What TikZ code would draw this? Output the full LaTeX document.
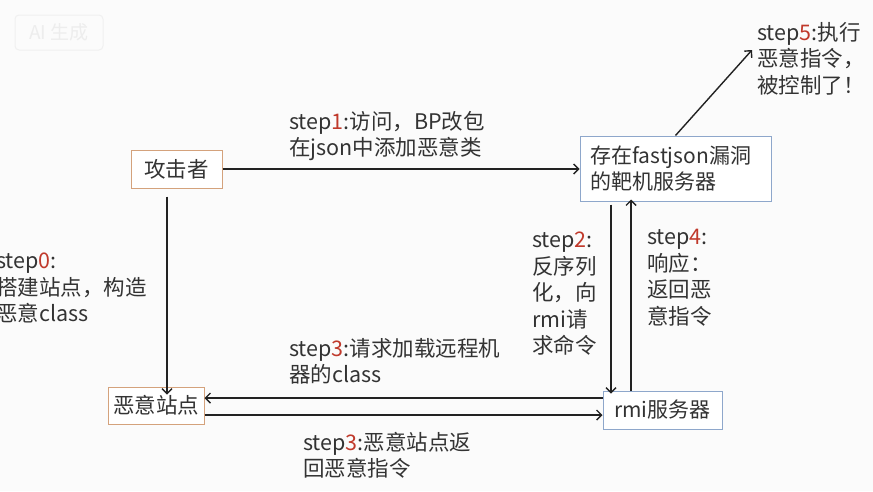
\documentclass[tikz,border=0pt]{standalone}
\usepackage{fontspec}
\setmainfont{Noto Sans CJK SC}
\usetikzlibrary{arrows.meta}
\definecolor{txt}{HTML}{333333}
\definecolor{stepred}{HTML}{C0392B}
\definecolor{orangeb}{HTML}{D4A27C}
\definecolor{blueb}{HTML}{8EA7CB}
\definecolor{bg}{HTML}{FBFBFB}
\definecolor{linec}{HTML}{222222}
\newcommand{\sn}[1]{\textcolor{stepred}{#1}}
\begin{document}
\begin{tikzpicture}[x=1pt,y=-1pt,
  txtfont/.style={font=\fontsize{21.5}{26.5}\selectfont, text=txt},
  boxo/.style={draw=orangeb, line width=1pt, fill=white, inner sep=0pt, txtfont},
  boxb/.style={draw=blueb, line width=1pt, fill=white, inner sep=0pt, txtfont},
  lbl/.style={anchor=north west, align=left, inner sep=0pt, txtfont},
  arr/.style={draw=linec, line width=1.4pt, -{Straight Barb[length=5pt,width=10pt]}}]
\useasboundingbox (0,0) rectangle (873,491);
\fill[bg] (0,0) rectangle (873,491);
% watermark
\node[draw=gray!12, line width=1pt, rounded corners=4pt, text=gray!14, minimum width=88pt, minimum height=35pt, inner sep=0pt, font=\fontsize{19}{20}\selectfont] (wm) at (59,32.5) {AI 生成};
% boxes
\node[boxo, minimum width=91pt, minimum height=38pt] (att) at (176.5,169) {攻击者};
\node[boxb, minimum width=191pt, minimum height=65pt, align=left, text width=170pt, font=\fontsize{21}{26.5}\selectfont] (tgt) at (675.5,168.5) {存在fastjson漏洞\\的靶机服务器};
\node[boxo, minimum width=96pt, minimum height=37pt] (site) at (156,405.5) {恶意站点};
\node[boxb, minimum width=119pt, minimum height=38pt, font=\fontsize{21}{26.5}\selectfont] (rmi) at (662.5,410) {rmi服务器};
% labels
\node[lbl] (l1) at (289,111) {step\sn{1}:访问，BP改包\\在json中添加恶意类};
\node[lbl] (l0) at (-4,253) {step\sn{0}:\\搭建站点，构造\\恶意class};
\node[lbl] (l2) at (532,232) {step\sn{2}:\\反序列\\化，向\\rmi请\\求命令};
\node[lbl] (l4) at (647,229) {step\sn{4}:\\响应：\\返回恶\\意指令};
\node[lbl] (l3a) at (289,338) {step\sn{3}:请求加载远程机\\器的class};
\node[lbl] (l3b) at (303,432) {step\sn{3}:恶意站点返\\回恶意指令};
\node[lbl] (l5) at (757,22) {step\sn{5}:执行\\恶意指令，\\被控制了！};
% connectors
\coordinate (s5) at (752,50);
\draw[arr] (att.east) -- (tgt.west |- att.east);
\draw[arr] ([xshift=-9.5pt,yshift=-8pt]att.south) -- ([xshift=-9.5pt,yshift=-8pt]att.south |- site.north);
\draw[arr] ([xshift=-64.5pt,yshift=-3pt]tgt.south) -- ([xshift=-64.5pt,yshift=-3pt]tgt.south |- rmi.north);
\draw[arr] ([xshift=-31.5pt]rmi.north) -- ([xshift=-31.5pt]rmi.north |- tgt.south) -- +(0,-2);
\draw[arr] ([yshift=12pt]rmi.west) -- ([yshift=12pt]rmi.west -| site.east);
\draw[arr] ([yshift=-9.5pt]site.east) -- ([yshift=-9.5pt]site.east -| rmi.west);
\draw[arr] (tgt.north) -- (s5);
\end{tikzpicture}
\end{document}
